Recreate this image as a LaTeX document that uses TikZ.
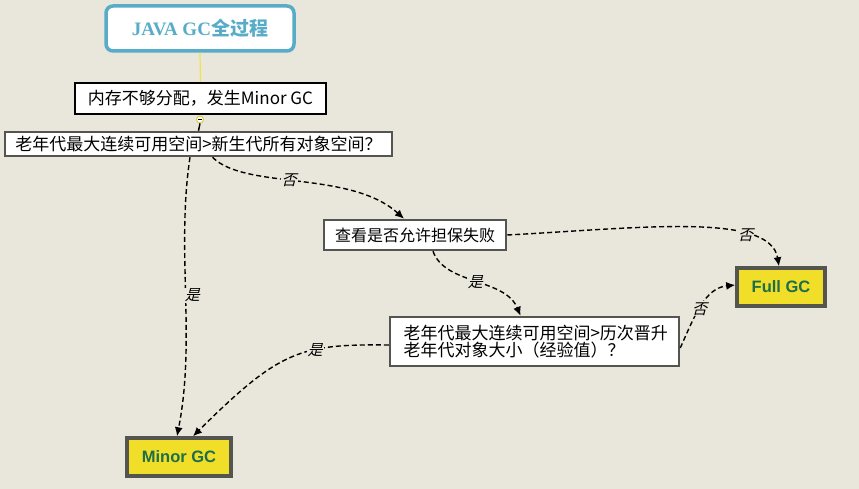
\documentclass[tikz,border=0pt]{standalone}
\usepackage{fontspec}
\setmainfont{Liberation Sans}
\newfontfamily\cjk{Noto Sans CJK SC}
\newfontfamily\cjkslant[FakeSlant=0.25]{Noto Sans CJK SC}
\newfontfamily\titlefont{Liberation Serif}
\usetikzlibrary{arrows.meta}
\definecolor{bgc}{RGB}{233,231,220}
\definecolor{titleblue}{RGB}{88,172,200}
\definecolor{gcyellow}{RGB}{240,222,40}
\definecolor{gcgreen}{RGB}{30,110,75}
\definecolor{boxgrey}{RGB}{85,85,80}
\tikzset{
  stepbox/.style={draw=boxgrey, line width=2.5pt, fill=white, inner sep=0pt, font=\cjk\fontsize{16}{18}\selectfont, align=left},
  gcbox/.style={draw=boxgrey, line width=3.5pt, fill=gcyellow, inner sep=0pt, font=\bfseries\fontsize{16.5}{18}\selectfont, text=gcgreen},
  flow/.style={line width=1.4pt, dash pattern=on 5pt off 3pt, -{Latex[length=9pt,width=8pt]}},
  lbl/.style={fill=bgc, inner sep=1pt, font=\cjkslant\fontsize{15}{16}\selectfont}
}
\begin{document}
\begin{tikzpicture}[x=1pt,y=-1pt]
\fill[bgc] (0,0) rectangle (859,489);
\useasboundingbox (0,0) rectangle (859,489);

\node[draw=titleblue, line width=3.5pt, rounded corners=7pt, fill=white, minimum width=188pt, minimum height=45pt, inner sep=0pt, text=titleblue, font=\bfseries\fontsize{19}{21}\selectfont] (title) at (200,28.5) {{\titlefont JAVA GC}{\cjk 全过程}};

\node[stepbox, draw=black, minimum width=251pt, minimum height=31pt, font=\cjk\fontsize{17}{19}\selectfont] (b2) at (200.5,98.5) {内存不够分配，发生Minor GC};
\node[stepbox, minimum width=387pt, minimum height=24pt, font=\cjk\fontsize{17}{19}\selectfont] (b3) at (198.5,144) {老年代最大连续可用空间>新生代所有对象空间？};
\node[stepbox, minimum width=182pt, minimum height=30pt] (b4) at (415,235) {查看是否允许担保失败};
\node[stepbox, minimum width=289pt, minimum height=49pt, text width=262pt, font=\cjk\fontsize{17}{17.5}\selectfont] (b5) at (534.5,341.5) {老年代最大连续可用空间>历次晋升\\老年代对象大小（经验值）？};
\node[gcbox, minimum width=88pt, minimum height=38pt] (full) at (781,287) {Full GC};
\node[gcbox, minimum width=104pt, minimum height=38pt] (minor) at (179,457) {Minor GC};

\draw[gcyellow!85!white, line width=1.2pt] (title.south) -- (b2.north);
\node[circle, draw=gcyellow!90!black, fill=white, line width=0.8pt, inner sep=0pt, minimum size=7pt] (knob) at (200,119.5) {};
\draw[black, line width=1.5pt] (knob.south) -- (b3.north);
\draw[black, line width=0.6pt] (198,119.5) -- (202,119.5);

\draw[flow] ([xshift=-8.5pt]b3.south) .. controls (176,250) and (196,340) .. node[lbl, pos=0.5, xshift=7pt] {是} ([xshift=-2pt]minor.north);
\draw[flow] ([xshift=14pt]b3.south) .. controls (245,190) and (350,170) .. node[lbl, pos=0.45] {否} ([xshift=-11pt]b4.north);
\draw[flow] (b4.east) .. controls (640,228) and (770,212) .. node[lbl, pos=0.72] {否} ([xshift=-2pt]full.north);
\draw[flow] ([xshift=18pt]b4.south) .. controls (445,285) and (505,278) .. node[lbl, pos=0.5] {是} ([xshift=-14pt]b5.north);
\draw[flow] ([yshift=-3.5pt]b5.west) .. controls (300,344) and (280,350) .. node[lbl, pos=0.35] {是} ([xshift=14pt]minor.north);
\draw[flow] ([yshift=-6.5pt]b5.east) .. controls (695,315) and (705,288) .. node[lbl, pos=0.45] {否} ([yshift=2pt]full.west);
\end{tikzpicture}
\end{document}
